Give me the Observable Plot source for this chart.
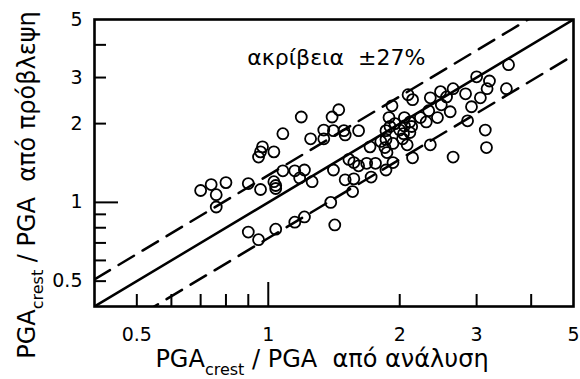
<!DOCTYPE html>
<html>
<head>
<meta charset="utf-8">
<script src="https://cdn.jsdelivr.net/npm/d3@7"></script>
<script src="https://cdn.jsdelivr.net/npm/@observablehq/plot@0.6"></script>
<style>
  body { margin: 0; background: #fff; }
  svg { display: block; }
  svg text { white-space: pre; }
</style>
</head>
<body>
<script>
// PGA_crest / PGA from analysis (x) and from prediction (y)
const analysis = [
  0.70, 0.74, 0.76, 0.80, 0.76, 0.90, 0.96, 1.03, 1.04, 1.04,
  1.08, 1.15, 1.21, 1.18, 1.26, 1.41, 1.50, 1.57, 1.56, 1.53,
  1.57, 1.61, 1.68, 1.76, 1.72, 1.86, 1.93, 2.14, 0.90, 0.95,
  1.04, 1.15, 1.21, 1.39, 1.42, 0.97, 0.96, 0.95, 1.03, 1.08,
  1.19, 1.25, 1.34, 1.34, 1.40, 1.45, 1.41, 1.49, 1.50, 1.61,
  1.71, 1.81, 1.85, 1.87, 1.93, 1.86, 1.86, 1.89, 1.92, 1.95,
  1.90, 2.00, 2.05, 2.04, 2.03, 2.08, 2.05, 2.13, 2.09, 2.14,
  2.11, 2.11, 2.23, 2.30, 2.33, 2.35, 2.48, 2.56, 2.65, 2.83,
  2.49, 2.61, 2.44, 2.86, 2.92, 2.35, 2.65, 3.00, 3.21, 3.17,
  3.51, 3.55, 3.06, 3.14, 3.16
];
const prediction = [
  1.11, 1.17, 1.07, 1.19, 0.96, 1.18, 1.12, 1.20, 1.16, 1.13,
  1.32, 1.32, 1.33, 1.24, 1.20, 1.33, 1.22, 1.23, 1.10, 1.46,
  1.42, 1.38, 1.41, 1.41, 1.25, 1.33, 1.42, 1.48, 0.77, 0.72,
  0.79, 0.84, 0.88, 1.00, 0.82, 1.63, 1.56, 1.49, 1.56, 1.83,
  2.12, 1.75, 1.89, 1.75, 2.12, 2.26, 1.88, 1.88, 1.81, 1.88,
  1.63, 1.71, 1.62, 1.55, 1.68, 1.88, 1.74, 2.11, 2.34, 2.00,
  1.95, 1.89, 2.11, 1.83, 1.75, 1.66, 1.96, 1.95, 2.58, 2.47,
  2.03, 1.85, 2.11, 2.03, 2.24, 2.51, 2.65, 2.53, 2.72, 2.60,
  2.36, 2.22, 2.11, 2.05, 2.32, 1.66, 1.49, 3.02, 2.91, 2.72,
  2.72, 3.36, 2.51, 1.89, 1.62
];
const axisDomain = [0.4, 5];
const xTickLabels = [0.5, 1, 2, 3, 5];
const yTickLabels = [0.5, 1, 2, 3, 5];
const minorTicks = [0.5, 0.6, 0.7, 0.8, 0.9, 2, 3, 4];
const majorTicks = [1];
const accuracyFactors = [1.27, 0.73];
const annotation = [{x: 0.895, y: 3.34, label: "ακρίβεια  ±27%"}];

const W = 580, H = 379, mt = 19, mr = 7, mb = 73, ml = 94;
const frameW = W - ml - mr, frameH = H - mt - mb;

const points = analysis.map((x, i) => ({x, y: prediction[i]}));
const identity = axisDomain.map(v => ({x: v, y: v}));
const bands = accuracyFactors.flatMap(k => axisDomain.map(v => ({k, x: v, y: v * k})));

const svg = Plot.plot({
  width: W, height: H,
  marginTop: mt, marginRight: mr, marginBottom: mb, marginLeft: ml,
  style: {fontFamily: "'DejaVu Sans', sans-serif", background: "white", color: "black", overflow: "visible"},
  x: {type: "log", domain: axisDomain, axis: null},
  y: {type: "log", domain: axisDomain, axis: null},
  marks: [
    Plot.ruleX(minorTicks, {x: d => d, stroke: "black", strokeWidth: 2, insetTop: frameH - 12}),
    Plot.ruleX(majorTicks, {x: d => d, stroke: "black", strokeWidth: 2, insetTop: frameH - 24}),
    Plot.ruleY(minorTicks, {y: d => d, stroke: "black", strokeWidth: 2, insetRight: frameW - 12}),
    Plot.ruleY(majorTicks, {y: d => d, stroke: "black", strokeWidth: 2, insetRight: frameW - 24}),
    Plot.line(bands, {x: "x", y: "y", z: "k", stroke: "black", strokeWidth: 2.5, strokeDasharray: "18,10", clip: true}),
    Plot.line(identity, {x: "x", y: "y", stroke: "black", strokeWidth: 2.5, clip: true}),
    Plot.dot(points, {x: "x", y: "y", r: 5.5, stroke: "black", strokeWidth: 1.8, fill: "none"}),
    Plot.text(xTickLabels, {x: d => d, frameAnchor: "bottom", lineAnchor: "bottom", dy: 34, text: d => String(d), fontSize: 19, fill: "black"}),
    Plot.text(yTickLabels, {y: d => d, frameAnchor: "left", textAnchor: "end", dx: -12, text: d => String(d), fontSize: 19, fill: "black"}),
    Plot.text(annotation, {x: "x", y: "y", text: "label", textAnchor: "start", lineAnchor: "bottom", fontSize: 22, fill: "black"}),
    Plot.frame({stroke: "black", strokeWidth: 2.6})
  ]
});

const s = d3.select(svg);
const xt = s.append("text")
  .attr("x", 322).attr("y", 367)
  .attr("text-anchor", "middle").attr("font-size", 24).attr("fill", "black");
xt.append("tspan").text("PGA");
xt.append("tspan").attr("font-size", 16).attr("dy", 8).text("crest");
xt.append("tspan").attr("dy", -8).text(" / PGA  από ανάλυση");

const yt = s.append("text")
  .attr("transform", "translate(35,185) rotate(-90)")
  .attr("text-anchor", "middle").attr("font-size", 24).attr("fill", "black");
yt.append("tspan").text("PGA");
yt.append("tspan").attr("font-size", 16).attr("dy", 8).text("crest");
yt.append("tspan").attr("dy", -8).text(" / PGA  από πρόβλεψη");

document.body.appendChild(svg);
</script>
</body>
</html>
